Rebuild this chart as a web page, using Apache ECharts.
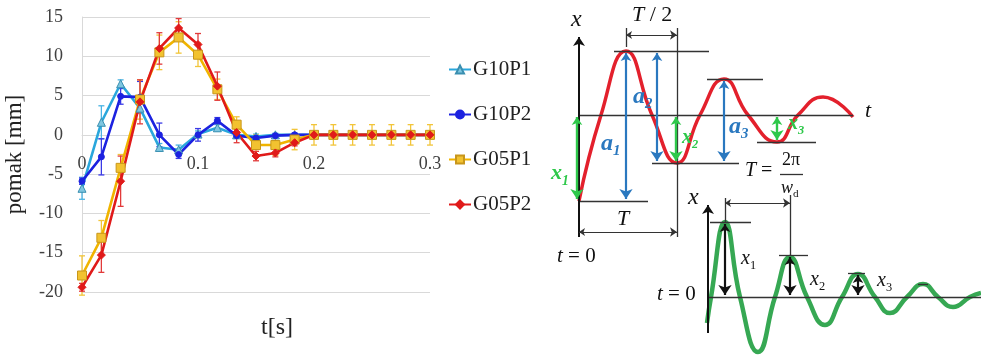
<!DOCTYPE html>
<html>
<head>
<meta charset="utf-8">
<script src="https://cdn.jsdelivr.net/npm/echarts@6/dist/echarts.min.js"></script>
<style>
  html, body { margin: 0; padding: 0; background: #fff; }
  #main { width: 981px; height: 356px; }
</style>
</head>
<body>
<div id="main"></div>
<script>
// ---- 左图：位移-时间数据 ----
var tSec = [0, 0.0167, 0.0333, 0.05, 0.0667, 0.0833, 0.1, 0.1167, 0.1333, 0.15,
            0.1667, 0.1833, 0.2, 0.2167, 0.2333, 0.25, 0.2667, 0.2833, 0.3];
var seriesNames = ['G10P1', 'G10P2', 'G05P1', 'G05P2'];
var g10p1 = [-6.8, 1.6, 6.5, 3.4, -1.6, -1.9, 0.1, 0.9, 0, -0.2, 0, 0, 0, 0, 0, 0, 0, 0, 0];
var g10p2 = [-5.9, -2.8, 4.9, 4.8, 0, -2.5, 0, 1.8, -0.1, -0.4, -0.1, 0, 0, 0, 0, 0, 0, 0, 0];
var g05p1 = [-17.9, -13.1, -4.2, 4.5, 10.5, 12.4, 10.2, 5.8, 1.3, -1.3, -1.3, -0.6, 0, 0, 0, 0, 0, 0, 0];
var g05p2 = [-19.4, -15.3, -5.9, 4.2, 11.0, 13.6, 11.5, 6.2, 0.3, -2.7, -2.3, -1.0, 0, 0, 0, 0, 0, 0, 0];
// 误差棒（±）
var errG10p1 = [1.4, 2.1, 0.5, 0.6, 0.5, 0.6, 0.4, 0.4, 0.3, 0.3, 0.2, 0.2, 0.2, 0.2, 0.2, 0.2, 0.2, 0.2, 0.2];
var errG10p2 = [0.4, 2.3, 1.0, 2.0, 1.5, 0.5, 0.8, 0.4, 0.3, 0.2, 0.2, 0.2, 0.2, 0.2, 0.2, 0.2, 0.2, 0.2, 0.2];
var errG05p1 = [2.5, 2.2, 1.7, 2.5, 2.2, 2.0, 1.5, 1.3, 1.0, 1.3, 1.3, 1.3, 1.3, 1.3, 1.3, 1.3, 1.3, 1.3, 1.3];
var errG05p2 = [0.5, 2.2, 3.2, 2.8, 2.0, 1.2, 1.4, 1.8, 1.3, 0.6, 0.5, 0.4, 0.2, 0.2, 0.2, 0.2, 0.2, 0.2, 0.2];
var yTicks = [-20, -15, -10, -5, 0, 5, 10, 15];
var xTicks = [0, 0.1, 0.2, 0.3];

// ---- 右图：示意图（像素坐标读自原图） ----
var redCurve = [[579, 201], [601, 115], [626, 51], [652, 115], [677, 163], [700, 115],
                [724, 79], [748, 115], [777, 142], [798, 115], [823, 97], [853, 117]];
var greenCurve = [[707, 323], [711, 297], [725, 222], [740, 297], [758, 352], [775, 297],
                  [790, 257], [807, 297], [825, 325], [842, 297], [858, 274], [875, 297],
                  [890, 313], [907, 297], [923, 284], [938, 297], [953, 307], [970, 297], [981, 293]];
var thinLines = [
  [[614, 51], [709, 51]], [[707, 79], [763, 79]], [[652, 163], [739, 163]],
  [[757, 142], [816, 142]], [[579, 201], [648, 201]], [[626, 28], [626, 47]],
  [[677, 28], [677, 237]], [[780, 174], [803, 174]],
  [[710, 222], [751, 222]], [[779, 255], [808, 255]], [[848, 273], [865, 273]],
  [[918, 284], [928, 284]], [[725, 198], [725, 222]], [[790, 195], [790, 255]],
  [[579, 115], [853, 115]], [[708, 297], [981, 297]]
];
var axisArrows = [[[579, 237], [579, 37]], [[708, 333], [708, 205]]];
var thinDouble = [[[626, 35], [677, 35]], [[579, 232], [677, 232]], [[725, 203], [790, 203]]];
var blackDouble = [[[725, 224], [725, 295]], [[790, 257], [790, 295]], [[858, 275], [858, 295]]];
var blueDouble = [[[626, 53], [626, 199]], [[657, 53], [657, 161]], [[724, 81], [724, 161]]];
var greenDouble = [[[577, 117], [577, 199]], [[676, 117], [676, 161]], [[777, 117], [777, 140]]];

var chart = echarts.init(document.getElementById('main'));

var SERIF = '"Liberation Serif", "DejaVu Serif", serif';
var colors = ['#2aa7dc', '#1c22e0', '#f0b400', '#e01a1a'];
var errColors = ['#4ab4e4', '#3a3ae6', '#f2c53a', '#e23a3a'];
var valueSets = [g10p1, g10p2, g05p1, g05p2];
var errSets = [errG10p1, errG10p2, errG05p1, errG05p2];
var symbols = ['triangle', 'circle', 'rect', 'diamond'];

function pairs(arr) {
  return tSec.map(function (t, i) { return [t, arr[i]]; });
}

function errRender(color) {
  return function (params, api) {
    var x = api.value(0);
    var top = api.coord([x, api.value(2)]);
    var bot = api.coord([x, api.value(1)]);
    var cw = 3;
    var st = { stroke: color, lineWidth: 1.3 };
    return {
      type: 'group',
      children: [
        { type: 'line', shape: { x1: top[0], y1: top[1], x2: bot[0], y2: bot[1] }, style: st },
        { type: 'line', shape: { x1: top[0] - cw, y1: top[1], x2: top[0] + cw, y2: top[1] }, style: st },
        { type: 'line', shape: { x1: bot[0] - cw, y1: bot[1], x2: bot[0] + cw, y2: bot[1] }, style: st }
      ]
    };
  };
}

var series = [];
// 误差棒放在下面
valueSets.forEach(function (vals, k) {
  series.push({
    name: seriesNames[k] + '_err',
    type: 'custom',
    xAxisIndex: 0, yAxisIndex: 0,
    renderItem: errRender(errColors[k]),
    data: tSec.map(function (t, i) { return [t, vals[i] - errSets[k][i], vals[i] + errSets[k][i]]; }),
    encode: { x: 0, y: [1, 2] },
    silent: true,
    z: 1
  });
});
valueSets.forEach(function (vals, k) {
  series.push({
    name: seriesNames[k],
    type: 'line',
    xAxisIndex: 0, yAxisIndex: 0,
    data: pairs(vals),
    symbol: symbols[k],
    symbolSize: k === 2 ? 9 : (k === 1 ? 6 : 8),
    showAllSymbol: true,
    lineStyle: { color: colors[k], width: 2.6 },
    itemStyle: {
      color: k === 2 ? '#f2c230' : (k === 0 ? '#7fc6e0' : colors[k]),
      borderColor: k === 2 ? '#c8961a' : (k === 0 ? '#3a8fb0' : colors[k]),
      borderWidth: 1
    },
    z: 3
  });
});

// 右侧示意图
function diagLines(data, color, width, sym, size) {
  return {
    type: 'lines',
    coordinateSystem: 'cartesian2d',
    xAxisIndex: 1, yAxisIndex: 1,
    data: data.map(function (c) { return { coords: c }; }),
    symbol: sym,
    symbolSize: size,
    lineStyle: { color: color, width: width, opacity: 1, curveness: 0 },
    silent: true,
    z: 5
  };
}
series.push({
  type: 'line', xAxisIndex: 1, yAxisIndex: 1, data: redCurve, smooth: 0.5,
  symbol: 'none', lineStyle: { color: '#e3202c', width: 3.5 }, silent: true, z: 4
});
series.push({
  type: 'line', xAxisIndex: 1, yAxisIndex: 1, data: greenCurve, smooth: 0.5,
  symbol: 'none', lineStyle: { color: '#36a853', width: 4.5 }, silent: true, z: 4
});
series.push(diagLines(thinLines, '#333', 1.3, ['none', 'none'], 0));
series.push(diagLines(axisArrows, '#111', 2, ['none', 'arrow'], [7, 9]));
series.push(diagLines(thinDouble, '#333', 1.2, ['arrow', 'arrow'], [6, 7]));
series.push(diagLines(blackDouble, '#111', 2.2, ['arrow', 'arrow'], [8, 10]));
series.push(diagLines(blueDouble, '#2a78bf', 2.2, ['arrow', 'arrow'], [8, 10]));
series.push(diagLines(greenDouble, '#2ec84a', 2.4, ['arrow', 'arrow'], [8, 10]));

// 公式/标注文字
function mathLabel(x, y, main, sub, color, size, bold, upright) {
  var w = bold ? 'bold' : 'normal';
  var txt = '{m|' + main + '}';
  if (upright) txt += '{u|' + upright + '}';
  if (sub) txt += '{s|' + sub + '}';
  return {
    type: 'text', left: x, top: y - size * 0.65, z: 10, silent: true,
    style: {
      text: txt,
      rich: {
        m: { fontFamily: SERIF, fontStyle: 'italic', fontWeight: w, fontSize: size, fill: color, lineHeight: size * 1.3 },
        u: { fontFamily: SERIF, fontSize: size, fill: color, lineHeight: size * 1.3 },
        s: { fontFamily: SERIF, fontStyle: bold ? 'italic' : 'normal', fontWeight: w, fontSize: size * 0.62,
             fill: color, lineHeight: size * 0.8, verticalAlign: 'bottom' }
      }
    }
  };
}
var BLUE = '#2a78bf', GREEN = '#2ec84a';
var graphics = [
  mathLabel(571, 23, 'x', '', '#111', 24, false),
  mathLabel(632, 19, 'T', '', '#111', 22, false, ' / 2'),
  mathLabel(865, 115, 't', '', '#111', 22, false),
  mathLabel(601, 147, 'a', '1', BLUE, 24, true),
  mathLabel(633, 100, 'a', '2', BLUE, 24, true),
  mathLabel(729, 130, 'a', '3', BLUE, 24, true),
  mathLabel(551, 177, 'x', '1', GREEN, 22, true),
  mathLabel(682, 141, 'x', '2', GREEN, 20, true),
  mathLabel(788, 127, 'x', '3', GREEN, 20, true),
  mathLabel(745, 174, 'T', '', '#111', 20, false, ' ='),
  mathLabel(782, 163, '', '', '#111', 18, false, '2π'),
  mathLabel(781, 191, 'w', 'd', '#111', 18, false),
  mathLabel(617, 223, 'T', '', '#111', 22, false),
  mathLabel(557, 260, 't', '', '#111', 21, false, ' = 0'),
  mathLabel(688, 201, 'x', '', '#111', 24, false),
  mathLabel(741, 262, 'x', '1', '#111', 20, false),
  mathLabel(810, 283, 'x', '2', '#111', 20, false),
  mathLabel(877, 284, 'x', '3', '#111', 20, false),
  mathLabel(657, 298, 't', '', '#111', 21, false, ' = 0')
];

var option = {
  backgroundColor: '#fff',
  animation: false,
  legend: {
    data: seriesNames,
    orient: 'vertical',
    left: 443,
    top: 54,
    itemWidth: 22,
    itemHeight: 10,
    itemGap: 24,
    textStyle: { fontFamily: SERIF, fontSize: 21, color: '#222', padding: [0, 0, 0, -3] }
  },
  grid: [
    { left: 82, top: 17, width: 348, height: 275, containLabel: false, outerBoundsMode: 'none' },
    { left: 0, right: 0, top: 0, bottom: 0, containLabel: false, outerBoundsMode: 'none' }
  ],
  xAxis: [
    {
      type: 'value', gridIndex: 0, min: xTicks[0], max: xTicks[xTicks.length - 1], interval: 0.1,
      // 轴线放在 y=0 处（与原图一致）
      offset: -157,
      axisLine: { show: true, onZero: false, lineStyle: { color: '#d9d9d9' } },
      axisTick: { show: false },
      splitLine: { show: false },
      axisLabel: { fontFamily: SERIF, fontSize: 18, color: '#404040', margin: 20,
        formatter: function (v) { return String(Math.round(v * 10) / 10); } },
      name: 't[s]', nameLocation: 'middle', nameGap: 181,
      nameTextStyle: { fontFamily: SERIF, fontSize: 24, color: '#222', padding: [0, 0, 0, 42] }
    },
    { type: 'value', gridIndex: 1, min: 0, max: 981, show: false }
  ],
  yAxis: [
    {
      type: 'value', gridIndex: 0, min: yTicks[0], max: yTicks[yTicks.length - 1], interval: 5,
      axisLine: { show: true, onZero: false, lineStyle: { color: '#d9d9d9' } },
      axisTick: { show: false },
      splitLine: { lineStyle: { color: '#d9d9d9' } },
      axisLabel: { fontFamily: SERIF, fontSize: 18, color: '#404040', margin: 19 },
      name: 'pomak [mm]', nameLocation: 'middle', nameGap: 56, nameRotate: 90,
      nameTextStyle: { fontFamily: SERIF, fontSize: 23, color: '#222' }
    },
    { type: 'value', gridIndex: 1, min: 0, max: 356, inverse: true, show: false }
  ],
  graphic: graphics,
  series: series
};

chart.setOption(option);
</script>
</body>
</html>
